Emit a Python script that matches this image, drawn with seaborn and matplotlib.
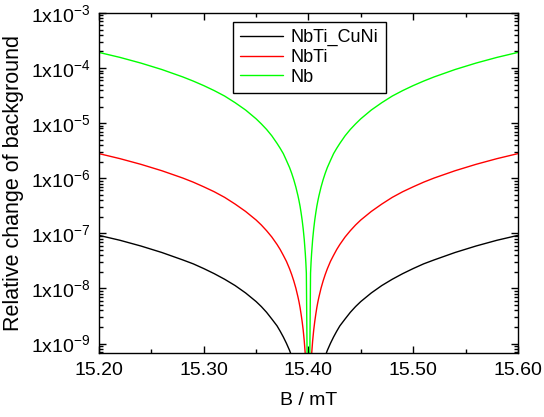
import numpy as np
import pandas as pd
import matplotlib
matplotlib.use("Agg")
import matplotlib.pyplot as plt
import seaborn as sns
from matplotlib.ticker import FixedLocator, FuncFormatter, LogLocator, MultipleLocator, NullFormatter

b_centre = 15.40
b_offset = [0.20, 0.18, 0.16, 0.14, 0.12, 0.11, 0.10, 0.09, 0.08, 0.07, 0.06, 0.05, 0.045,
            0.04, 0.035, 0.03, 0.027, 0.024, 0.021, 0.018, 0.016, 0.014, 0.012, 0.010,
            0.009, 0.008, 0.007, 0.006, 0.005, 0.004, 0.003, 0.0025, 0.002, 0.0]
nbti_cuni = [9.2e-8, 7.5e-8, 5.9e-8, 4.5e-8, 3.3e-8, 2.8e-8, 2.3e-8, 1.86e-8, 1.47e-8, 1.13e-8,
             8.3e-9, 5.8e-9, 4.7e-9, 3.7e-9, 2.8e-9, 2.1e-9, 1.68e-9, 1.32e-9, 1.01e-9, 7.5e-10,
             5.9e-10, 4.5e-10, 3.3e-10, 2.3e-10, 1.86e-10, 1.47e-10, 1.13e-10, 8.3e-11, 5.8e-11,
             3.7e-11, 2.1e-11, 1.4e-11, 9e-12, 1e-12]
nbti = [2.8e-6, 2.27e-6, 1.79e-6, 1.37e-6, 1.01e-6, 8.5e-7, 7.0e-7, 5.7e-7, 4.5e-7, 3.4e-7,
        2.5e-7, 1.75e-7, 1.42e-7, 1.12e-7, 8.6e-8, 6.3e-8, 5.1e-8, 4.0e-8, 3.1e-8, 2.27e-8,
        1.79e-8, 1.37e-8, 1.01e-8, 7.0e-9, 5.7e-9, 4.5e-9, 3.4e-9, 2.5e-9, 1.75e-9,
        1.12e-9, 6.3e-10, 4.4e-10, 2.8e-10, 1e-12]
nb = [1.92e-4, 1.56e-4, 1.23e-4, 9.4e-5, 6.9e-5, 5.8e-5, 4.8e-5, 3.9e-5, 3.1e-5, 2.35e-5,
      1.73e-5, 1.2e-5, 9.7e-6, 7.7e-6, 5.9e-6, 4.3e-6, 3.5e-6, 2.8e-6, 2.1e-6, 1.56e-6,
      1.23e-6, 9.4e-7, 6.9e-7, 4.8e-7, 3.9e-7, 3.1e-7, 2.35e-7, 1.73e-7, 1.2e-7,
      7.7e-8, 4.3e-8, 3.0e-8, 1.9e-8, 1e-12]

x_ticks = [15.20, 15.30, 15.40, 15.50, 15.60]
y_ticks = [1e-9, 1e-8, 1e-7, 1e-6, 1e-5, 1e-4, 1e-3]

series = {"NbTi_CuNi": nbti_cuni, "NbTi": nbti, "Nb": nb}
colors = {"NbTi_CuNi": "black", "NbTi": "red", "Nb": "#00ff00"}

# the curves are symmetric about the dip, so mirror the read-off half
off = np.array(b_offset)
b_field = np.concatenate([b_centre - off, b_centre + off[-2::-1]])

sns.set_style("ticks")
plt.rcParams["font.family"] = ["Liberation Sans", "DejaVu Sans"]
plt.rcParams["mathtext.default"] = "regular"
for key in ["text.color", "axes.labelcolor", "xtick.color", "ytick.color", "axes.edgecolor"]:
    plt.rcParams[key] = "black"

fig = plt.figure(figsize=(5.44, 4.17), dpi=100)
ax = fig.add_axes([0.182, 0.153, 0.770, 0.816])

for name, vals in series.items():
    v = np.array(vals)
    y = np.concatenate([v, v[-2::-1]])
    df = pd.DataFrame({"B": b_field, "y": y})
    sns.lineplot(data=df, x="B", y="y", ax=ax, color=colors[name], lw=1.0,
                 label=name, estimator=None, sort=True)

ax.set_yscale("log")
ax.set_xlim(15.20, 15.60)
ax.set_ylim(6.7e-10, 1e-3)

ax.xaxis.set_major_locator(FixedLocator(x_ticks))
ax.xaxis.set_minor_locator(MultipleLocator(0.05))
ax.xaxis.set_major_formatter(FuncFormatter(lambda v, p: "%.2f" % v))
ax.yaxis.set_major_locator(FixedLocator(y_ticks))
ax.yaxis.set_minor_locator(LogLocator(base=10, subs=np.arange(2, 10), numticks=20))
ax.yaxis.set_minor_formatter(NullFormatter())
ax.yaxis.set_major_formatter(FuncFormatter(lambda v, p: "1x10$^{%d}$" % round(np.log10(v))))

ax.tick_params(which="both", direction="in", top=True, right=True, labelsize=14, width=1, color="black")
ax.tick_params(which="major", length=5, pad=6)
ax.tick_params(which="minor", length=3)
for s in ax.spines.values():
    s.set_linewidth(1.0)
    s.set_color("black")

ax.set_xlabel("B / mT", fontsize=14)
ax.set_ylabel("Relative change of background", fontsize=15.5)
ax.xaxis.set_label_coords(0.5, -0.115)
ax.yaxis.set_label_coords(-0.18, 0.5)

leg = ax.legend(loc="upper left", bbox_to_anchor=(0.32, 0.9735), borderaxespad=0, fontsize=13,
                frameon=True, fancybox=False, edgecolor="black", framealpha=1, handlelength=2.35,
                labelspacing=0.15, borderpad=0.4, handletextpad=0.45)
leg.get_frame().set_linewidth(1.0)

fig.savefig("out.png", dpi=100)
